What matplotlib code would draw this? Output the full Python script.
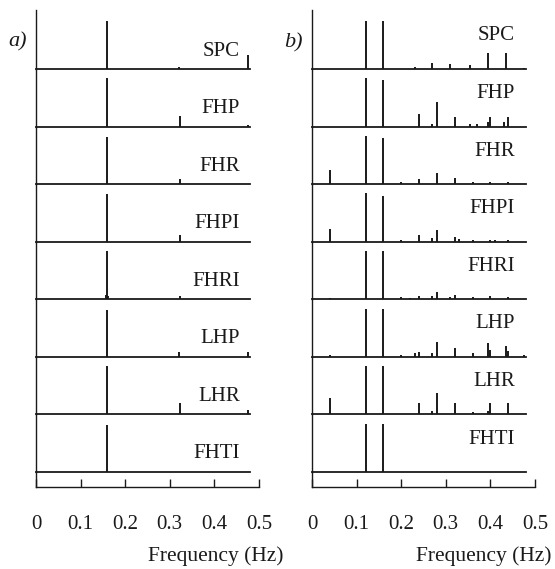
import matplotlib
matplotlib.use("Agg")
import matplotlib.pyplot as plt

plt.rcParams['font.family'] = ['Liberation Serif', 'DejaVu Serif']

W, H = 555, 569

row_labels = ["SPC", "FHP", "FHR", "FHPI", "FHRI", "LHP", "LHR", "FHTI"]

# panel a): peaks (frequency Hz, relative amplitude)
peaks_a = [
    [(0.16, 1.0), (0.32, 0.04), (0.475, 0.29)],
    [(0.16, 1.02), (0.322, 0.23), (0.476, 0.03)],
    [(0.16, 0.98), (0.322, 0.10)],
    [(0.16, 1.0), (0.322, 0.15)],
    [(0.158, 0.08), (0.16, 1.0), (0.162, 0.06), (0.322, 0.06)],
    [(0.16, 0.98), (0.32, 0.10), (0.476, 0.10)],
    [(0.16, 1.0), (0.322, 0.23), (0.476, 0.10)],
    [(0.16, 0.98)],
]

# panel b): peaks (frequency Hz, relative amplitude)
peaks_b = [
    [(0.12, 1.0), (0.16, 1.0), (0.23, 0.04), (0.27, 0.13), (0.31, 0.10),
     (0.355, 0.08), (0.395, 0.34), (0.435, 0.34), (0.476, 0.03)],
    [(0.12, 1.02), (0.16, 0.96), (0.24, 0.27), (0.27, 0.06), (0.28, 0.52),
     (0.32, 0.19), (0.355, 0.06), (0.37, 0.05), (0.395, 0.10), (0.40, 0.19),
     (0.43, 0.10), (0.44, 0.20)],
    [(0.04, 0.29), (0.12, 1.0), (0.16, 0.96), (0.20, 0.04), (0.24, 0.10),
     (0.28, 0.23), (0.32, 0.12), (0.36, 0.04), (0.40, 0.04), (0.44, 0.04)],
    [(0.04, 0.27), (0.12, 1.02), (0.16, 0.96), (0.20, 0.04), (0.24, 0.15),
     (0.27, 0.08), (0.28, 0.25), (0.32, 0.10), (0.33, 0.06), (0.36, 0.04),
     (0.40, 0.04), (0.41, 0.04), (0.44, 0.03)],
    [(0.04, 0.03), (0.12, 1.0), (0.16, 1.0), (0.20, 0.04), (0.22, 0.03),
     (0.24, 0.06), (0.27, 0.06), (0.28, 0.15), (0.31, 0.05), (0.32, 0.08),
     (0.36, 0.04), (0.40, 0.06), (0.44, 0.04)],
    [(0.04, 0.03), (0.12, 1.0), (0.16, 1.0), (0.20, 0.04), (0.23, 0.08),
     (0.24, 0.10), (0.27, 0.08), (0.28, 0.31), (0.32, 0.19), (0.36, 0.08),
     (0.395, 0.28), (0.40, 0.15), (0.435, 0.23), (0.44, 0.12), (0.476, 0.03)],
    [(0.04, 0.34), (0.12, 1.0), (0.16, 1.0), (0.24, 0.23), (0.27, 0.08),
     (0.28, 0.45), (0.32, 0.23), (0.36, 0.06), (0.395, 0.08), (0.40, 0.23),
     (0.44, 0.23)],
    [(0.12, 1.0), (0.16, 1.0)],
]

xticks = [0, 0.1, 0.2, 0.3, 0.4, 0.5]
xticklabels = ["0", "0.1", "0.2", "0.3", "0.4", "0.5"]
panel_tags = ["a)", "b)"]
xlabel = "Frequency (Hz)"

ink = "#1a1a1a"
fig = plt.figure(figsize=(W / 100, H / 100), dpi=100)


def fx(px):
    return px / W


def fy(py):
    return 1 - py / H


top_px = 10
first_base = 69
last_base = 472
step = (last_base - first_base) / 7
bases = [first_base + i * step for i in range(8)]
bottom_axis_px = 487
peak_px = 48.0  # pixel height of amplitude 1.0

panels = [
    dict(x0=36, x1=259, peaks=peaks_a, lab_x=240, lab_dy=18, tag_x=18, tag_y=42,
         tag=panel_tags[0], xl_right=284),
    dict(x0=312, x1=535, peaks=peaks_b, lab_x=515, lab_dy=33, tag_x=293, tag_y=43,
         tag=panel_tags[1], xl_right=552),
]

for p in panels:
    wpx = p["x1"] - p["x0"]
    for i, base in enumerate(bases):
        top = top_px if i == 0 else bases[i - 1]
        hpx = base - top
        ax = fig.add_axes([fx(p["x0"]), fy(base), fx(wpx), hpx / H])
        ax.set_xlim(0, 0.5)
        ax.set_ylim(0, hpx / peak_px)
        for s in ["top", "right", "bottom"]:
            ax.spines[s].set_visible(False)
        ax.spines["left"].set_color(ink)
        ax.spines["left"].set_linewidth(1.0)
        ax.set_xticks([])
        ax.set_yticks([])
        ax.patch.set_alpha(0)
        ax.axhline(0, xmin=0, xmax=0.48 / 0.5, color=ink, lw=1.3, clip_on=False)
        fr = [f for f, a in p["peaks"][i]]
        am = [a for f, a in p["peaks"][i]]
        ax.vlines(fr, 0, am, color=ink, lw=1.4, clip_on=False)
        ax.text((p["lab_x"] - p["x0"]) / wpx, p["lab_dy"] / hpx, row_labels[i],
                transform=ax.transAxes, ha="right", va="center", fontsize=15,
                color=ink)
    # bottom axis
    hb = bottom_axis_px - last_base
    axb = fig.add_axes([fx(p["x0"]), fy(bottom_axis_px), fx(wpx), hb / H])
    axb.set_xlim(0, 0.5)
    axb.set_ylim(0, 1)
    for s in ["top", "right"]:
        axb.spines[s].set_visible(False)
    axb.spines["left"].set_color(ink)
    axb.spines["bottom"].set_color(ink)
    axb.spines["left"].set_linewidth(1.0)
    axb.spines["bottom"].set_linewidth(1.0)
    axb.patch.set_alpha(0)
    axb.set_yticks([])
    axb.set_xticks(xticks)
    axb.set_xticklabels(xticklabels, fontsize=15, color=ink)
    axb.tick_params(axis="x", direction="in", length=6, width=1.0, color=ink,
                    pad=20)
    fig.text(fx(p["xl_right"]), fy(556), xlabel, ha="right", va="center",
             fontsize=15.5, color=ink)
    fig.text(fx(p["tag_x"]), fy(p["tag_y"]), p["tag"],
             ha="center", va="center", fontsize=16, style="italic", color=ink)

fig.savefig("out.png", dpi=100)
